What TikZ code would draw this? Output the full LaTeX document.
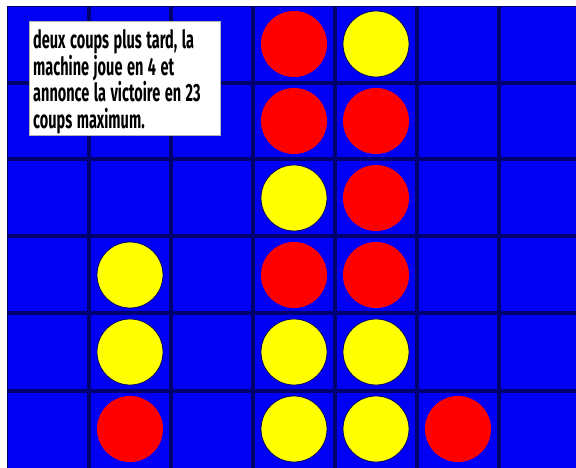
\documentclass[tikz,border=0pt]{standalone}
\usepackage{fontspec}
\newfontfamily\notefont[FakeStretch=0.58]{Fira Sans}
\newcommand\notestyle{\notefont\bfseries\fontsize{25}{26.5}\selectfont\spaceskip=4.5pt plus 1pt minus 1pt\relax}
\definecolor{boardblue}{RGB}{0,0,245}
\definecolor{gridnavy}{RGB}{0,0,110}
\definecolor{discred}{RGB}{255,0,0}
\definecolor{discyellow}{RGB}{255,255,0}
\begin{document}
\begin{tikzpicture}[x=1pt, y=-1pt,
    gridline/.style={draw=gridnavy, line width=3.5pt},
    disc/.style={circle, minimum size=66pt, inner sep=0pt},
    reddisc/.style={disc, fill=discred},
    yellowdisc/.style={disc, fill=discyellow, draw=gridnavy, line width=0.8pt},
    notebox/.style={draw=gray!60, fill=white, line width=0.6pt},
    notetext/.style={anchor=west, inner sep=0pt, align=left, font=\notestyle}]
        \useasboundingbox (0,0) rectangle (576,468);
        \fill[boardblue] (7,6) rectangle (581,468);
        \draw[gridnavy, line width=1pt] (7.5,468) -- (7.5,6.5) -- (581,6.5);

        \foreach \x in {89,171,253,335,417,499}
            \draw[gridline] (\x,6) -- (\x,468);
        \foreach \y in {83,159,236,313,391}
            \draw[gridline] (7,\y) -- (581,\y);

        \foreach \col/\row [count=\i] in {4/1,4/2,5/2,5/3,4/4,5/4,6/6}
            \node[reddisc] (red\i) at ({48+82*(\col-1)}, {44+77*(\row-1)}) {};
        \foreach \col/\row [count=\i] in {5/1,4/3,2/4,2/5,4/5,5/5,4/6,5/6}
            \node[yellowdisc] (yellow\i) at ({48+82*(\col-1)}, {44+77*(\row-1)}) {};
        \node[reddisc] (red8) at (130,429) {};

        \draw[notebox] (29,21) rectangle (220,135);
        \node[notetext] (note) at (33,82) {deux coups plus tard, la\\machine joue en 4 et\\annonce la victoire en 23\\coups maximum.};
    \end{tikzpicture}
\end{document}
